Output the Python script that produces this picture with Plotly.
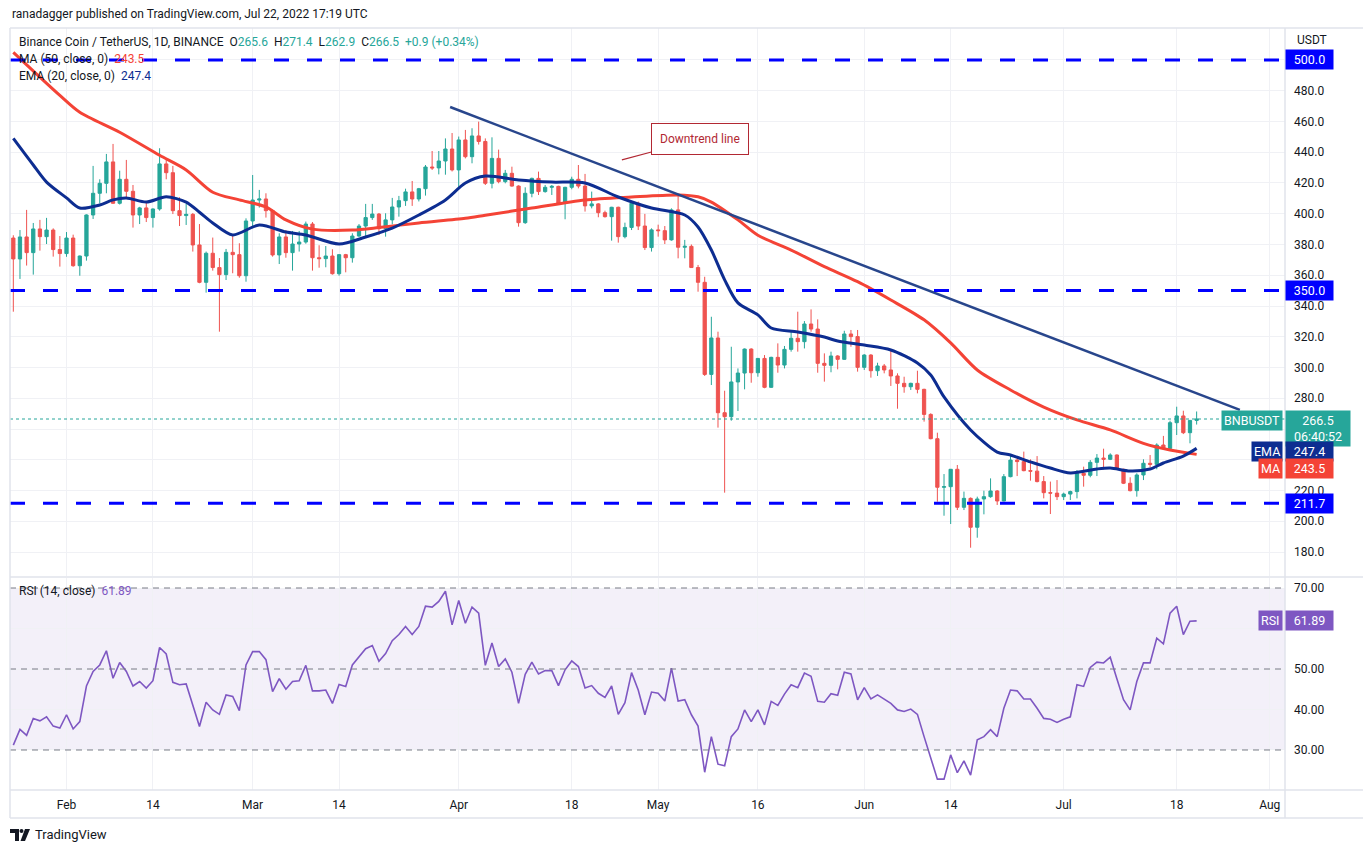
import pandas as pd
import plotly.graph_objects as go

# Daily candles, BNB/USDT (first candle is 24 Jan 2022)
OPEN = [
    384.2, 370.6, 384.9, 374.7, 390.1, 385.1, 389.4, 376.7, 374.1, 384.2,
    366.2, 372.5, 399.2, 413.3, 419.8, 433.7, 406.8, 422.4, 414.6, 399.2,
    403.8, 397.5, 403.1, 432.4, 426.7, 402.0, 398.8, 399.6, 379.7, 355.4,
    374.3, 365.0, 360.4, 374.9, 373.4, 359.7, 395.3, 408.9, 409.6, 402.0,
    373.2, 384.9, 374.7, 380.3, 381.6, 393.3, 371.4, 370.8, 372.5, 361.0,
    373.4, 371.4, 385.5, 392.0, 397.5, 399.8, 390.3, 396.0, 404.4, 408.5,
    414.2, 409.6, 416.3, 430.4, 429.8, 434.3, 442.1, 428.5, 448.0, 437.1,
    450.6, 447.0, 419.8, 436.0, 420.9, 426.3, 418.0, 394.2, 413.3, 423.0,
    414.4, 417.2, 417.8, 406.8, 417.2, 422.4, 418.0, 405.1, 406.4, 400.7,
    398.1, 404.2, 385.1, 391.1, 406.8, 392.0, 378.0, 389.5, 389.0, 383.0,
    402.5, 378.2, 378.8, 365.0, 355.4, 295.5, 319.2, 270.6, 268.0, 290.6,
    296.4, 312.0, 296.6, 305.9, 287.1, 306.6, 301.6, 311.8, 319.0, 316.8,
    328.3, 325.0, 302.7, 301.4, 307.5, 305.3, 321.8, 320.1, 300.1, 308.1,
    297.9, 301.0, 298.4, 294.5, 289.7, 287.5, 289.7, 285.8, 269.5, 253.7,
    222.1, 222.5, 233.8, 209.1, 214.9, 196.1, 214.5, 216.0, 219.7, 213.2,
    229.0, 239.8, 238.8, 232.9, 232.6, 225.8, 218.6, 218.3, 216.0, 217.7,
    219.3, 231.2, 229.9, 238.3, 241.1, 240.3, 243.1, 233.8, 224.7, 219.9,
    230.1, 237.7, 237.0, 249.6, 247.4, 264.1, 268.5, 257.6, 265.6,
]
HIGH = [
    386.0, 389.4, 402.5, 394.0, 396.0, 397.3, 390.5, 385.5, 388.1, 386.4,
    372.8, 399.6, 431.1, 422.4, 438.9, 445.4, 428.0, 435.0, 418.7, 404.5,
    407.4, 403.5, 442.6, 435.0, 431.1, 410.7, 406.4, 400.5, 393.3, 375.4,
    384.5, 371.2, 377.1, 386.2, 380.8, 397.0, 425.2, 415.5, 413.3, 402.8,
    387.3, 389.4, 388.8, 388.8, 394.9, 394.6, 379.5, 379.0, 376.9, 373.8,
    373.9, 387.3, 393.3, 406.4, 406.4, 400.5, 400.3, 410.3, 411.6, 416.3,
    421.3, 416.8, 431.7, 440.8, 440.8, 449.0, 452.5, 450.2, 454.5, 455.6,
    459.9, 449.0, 449.7, 441.7, 428.5, 430.6, 418.5, 417.2, 423.5, 427.4,
    418.7, 418.7, 418.2, 417.5, 424.1, 431.7, 425.9, 414.4, 406.9, 402.0,
    404.5, 404.6, 394.2, 407.9, 407.9, 399.9, 390.5, 392.9, 392.0, 403.5,
    412.6, 383.0, 380.0, 366.7, 359.0, 333.0, 323.3, 284.9, 313.5, 299.4,
    312.4, 312.5, 306.2, 308.1, 307.0, 315.7, 314.0, 323.9, 336.3, 330.2,
    337.8, 331.3, 309.2, 310.3, 308.0, 323.9, 324.4, 324.4, 308.7, 308.7,
    303.1, 302.3, 311.8, 296.2, 294.0, 290.1, 297.9, 286.2, 270.2, 257.6,
    230.7, 234.0, 236.6, 219.3, 215.5, 216.0, 219.9, 227.9, 220.3, 230.7,
    243.1, 241.6, 245.3, 240.3, 242.4, 229.4, 225.8, 226.8, 218.6, 219.9,
    233.3, 235.5, 239.8, 243.7, 247.2, 244.2, 243.5, 234.2, 228.6, 231.2,
    240.3, 243.1, 250.7, 255.5, 265.4, 274.5, 271.9, 265.8, 271.4,
]
LOW = [
    336.3, 357.6, 366.3, 360.4, 376.0, 380.3, 372.1, 365.6, 372.0, 365.5,
    359.7, 369.5, 396.6, 406.8, 413.3, 406.5, 406.0, 410.0, 391.0, 393.3,
    394.6, 391.0, 402.0, 422.4, 399.8, 392.0, 392.7, 375.4, 354.8, 348.7,
    363.0, 323.3, 356.9, 361.3, 358.4, 355.8, 390.5, 404.0, 397.5, 372.1,
    367.3, 371.4, 363.0, 375.4, 380.5, 363.0, 364.9, 365.2, 360.4, 359.7,
    361.9, 368.2, 385.0, 385.1, 396.0, 386.2, 385.1, 393.1, 398.1, 405.1,
    405.1, 408.0, 411.8, 428.5, 425.6, 425.4, 427.5, 415.9, 436.0, 432.8,
    445.0, 418.7, 416.5, 419.8, 419.8, 417.6, 391.6, 393.4, 410.7, 412.2,
    413.7, 412.2, 405.7, 396.4, 415.9, 416.5, 401.4, 403.5, 397.7, 397.5,
    382.5, 381.2, 384.0, 389.4, 389.4, 376.4, 375.4, 385.1, 380.3, 382.5,
    371.0, 371.0, 364.9, 349.3, 294.5, 288.6, 260.9, 218.6, 265.4, 271.7,
    285.8, 290.1, 294.0, 286.5, 286.8, 296.6, 299.4, 310.3, 310.3, 312.4,
    323.3, 296.6, 290.8, 296.9, 298.8, 305.0, 313.5, 297.3, 298.4, 293.4,
    294.5, 296.2, 288.0, 273.2, 283.6, 285.4, 283.2, 264.8, 253.3, 212.7,
    203.6, 198.2, 207.3, 207.3, 182.8, 189.3, 204.5, 215.3, 210.6, 213.0,
    228.6, 229.4, 232.5, 226.4, 225.3, 214.9, 204.7, 213.8, 213.8, 213.8,
    214.9, 222.5, 228.6, 229.4, 233.8, 239.8, 233.4, 224.2, 219.4, 216.0,
    226.8, 235.1, 233.8, 246.4, 246.8, 256.1, 256.7, 250.7, 262.9,
]
CLOSE = [
    370.6, 384.9, 374.7, 390.1, 385.1, 389.4, 376.7, 374.1, 384.2, 366.2,
    372.5, 399.2, 413.3, 419.8, 433.7, 406.8, 422.4, 414.6, 399.2, 403.8,
    397.5, 403.1, 432.4, 426.7, 402.0, 398.8, 399.6, 379.7, 355.4, 374.3,
    365.0, 360.4, 374.9, 373.4, 359.7, 395.3, 408.9, 409.6, 402.0, 373.2,
    384.9, 374.7, 380.3, 381.6, 393.3, 371.4, 370.8, 372.5, 361.0, 373.4,
    371.4, 385.5, 392.0, 397.5, 399.8, 390.3, 396.0, 404.4, 408.5, 414.2,
    409.6, 416.3, 430.4, 429.8, 434.3, 442.1, 428.5, 448.0, 437.1, 450.6,
    447.0, 419.8, 436.0, 420.9, 426.3, 418.0, 394.2, 413.3, 423.0, 414.4,
    417.2, 417.8, 406.8, 417.2, 422.4, 418.0, 405.1, 406.4, 400.7, 398.1,
    404.2, 385.1, 391.1, 406.8, 392.0, 378.0, 389.5, 389.0, 383.0, 402.5,
    378.2, 378.8, 365.0, 355.4, 295.5, 319.2, 270.6, 268.0, 290.6, 296.4,
    312.0, 296.6, 305.9, 287.1, 306.6, 301.6, 311.8, 319.0, 316.8, 328.3,
    325.0, 302.7, 301.4, 307.5, 305.3, 321.8, 320.1, 300.1, 308.1, 297.9,
    301.0, 298.4, 294.5, 289.7, 287.5, 289.7, 285.8, 269.5, 253.7, 222.1,
    222.5, 233.8, 209.1, 214.9, 196.1, 214.5, 216.0, 219.7, 213.2, 229.0,
    239.8, 238.8, 232.9, 232.6, 225.8, 218.6, 218.3, 216.0, 217.7, 219.3,
    231.2, 229.9, 238.3, 241.1, 240.3, 243.1, 233.8, 224.7, 219.9, 230.1,
    237.7, 237.0, 249.6, 247.4, 264.1, 268.5, 257.6, 265.6, 266.5,
]

# RSI (14, close), one value per candle
RSI = [
    31.2, 35.1, 33.6, 37.8, 37.2, 38.2, 35.9, 35.4, 38.7, 35.2,
    37.0, 45.8, 49.4, 51.0, 54.5, 47.7, 51.6, 49.4, 45.8, 46.9,
    45.3, 47.1, 55.3, 53.7, 46.7, 46.1, 46.3, 41.1, 35.8, 41.8,
    39.9, 38.8, 43.6, 43.2, 39.7, 51.0, 54.3, 54.3, 52.3, 44.4,
    47.6, 45.0, 46.9, 47.1, 50.9, 44.6, 44.6, 44.8, 41.5, 46.2,
    45.7, 51.0, 53.1, 55.0, 55.8, 51.9, 53.8, 57.0, 58.5, 60.5,
    58.5, 60.5, 65.5, 65.3, 66.7, 69.2, 60.9, 66.9, 61.3, 65.3,
    63.8, 50.9, 56.4, 50.6, 52.5, 49.2, 41.5, 48.7, 51.7, 48.8,
    49.6, 49.6, 45.9, 49.8, 52.0, 50.6, 45.3, 45.9, 44.0, 43.0,
    45.8, 38.8, 41.7, 49.1, 44.8, 38.7, 44.3, 44.0, 42.1, 50.2,
    42.1, 42.4, 38.7, 35.9, 24.5, 33.3, 26.5, 26.1, 33.3, 35.2,
    39.9, 37.0, 39.9, 36.2, 42.0, 41.0, 43.8, 46.1, 45.4, 49.0,
    48.2, 42.0, 41.8, 43.9, 43.5, 49.2, 48.8, 42.4, 45.4, 42.6,
    43.6, 42.6, 41.5, 39.9, 39.5, 40.1, 38.8, 33.3, 28.3, 22.8,
    22.8, 28.8, 24.4, 27.3, 23.8, 32.5, 33.3, 35.0, 33.3, 40.3,
    44.8, 44.6, 42.6, 42.6, 40.3, 37.8, 37.6, 36.8, 37.6, 38.2,
    46.1, 45.7, 50.4, 51.7, 51.5, 52.9, 47.6, 42.4, 39.9, 46.9,
    51.5, 51.5, 57.6, 56.2, 63.8, 65.5, 58.5, 61.8, 61.89,
]

# moving averages sampled off the chart (candle index, value)
MA_IDX = [0, 7, 10, 16, 22, 26, 30, 34, 38, 41, 45, 51, 55, 61, 68, 71, 78, 86,
          93, 100, 103, 105, 109, 112, 117, 122, 127, 132, 137, 141, 145, 150,
          155, 160, 165, 170, 174, 178]
MA_VAL = [505.0, 477.0, 466.0, 453.0, 438.0, 428.5, 414.0, 409.0, 404.4, 396.0,
          390.0, 389.4, 391.0, 394.0, 397.0, 399.0, 403.7, 409.0, 410.9, 412.2,
          411.0, 407.6, 396.0, 386.0, 376.4, 365.6, 355.8, 343.9, 331.0, 316.0,
          298.4, 285.4, 274.3, 265.9, 259.4, 250.7, 246.3, 243.5]
EMA_IDX = [0, 3, 5, 8, 10, 13, 15, 17, 20, 23, 26, 28, 30, 33, 37, 41, 44, 49,
           53, 57, 61, 65, 68, 71, 76, 81, 86, 91, 96, 101, 103, 105, 107, 109,
           112, 114, 118, 122, 124, 128, 132, 136, 138, 140, 144, 148, 150, 153,
           156, 159, 163, 165, 168, 171, 173, 176, 178]
EMA_VAL = [449.0, 431.7, 420.6, 410.3, 403.7, 405.7, 409.0, 410.3, 407.6, 411.0,
           407.6, 401.0, 394.0, 386.2, 392.7, 388.1, 386.2, 380.3, 384.9, 390.7,
           399.2, 409.0, 420.0, 424.5, 422.0, 420.6, 420.0, 410.9, 403.7, 399.2,
           391.4, 376.4, 357.0, 342.0, 334.2, 325.7, 323.1, 319.8, 317.2, 314.6,
           311.4, 302.9, 295.1, 280.9, 259.4, 245.0, 243.1, 238.6, 234.6, 231.4,
           234.0, 234.6, 232.7, 234.0, 237.9, 242.4, 247.4]

LEVELS = [500.0, 350.0, 211.7]
TREND_X = ["2022-03-30 17:00", "2022-07-27 12:00"]
TREND_Y = [469.4, 272.4]
CALLOUT_X = "2022-04-25 13:00"
CALLOUT_Y = 435.0

TICK_DATES = ["2022-02-01", "2022-02-14", "2022-03-01", "2022-03-14",
              "2022-04-01", "2022-04-18", "2022-05-01", "2022-05-16",
              "2022-06-01", "2022-06-14", "2022-07-01", "2022-07-18",
              "2022-08-01"]
TICK_TEXT = ["Feb", "14", "Mar", "14", "Apr", "18", "May", "16",
             "Jun", "14", "Jul", "18", "Aug"]
PRICE_TICKS = [180, 200, 220, 240, 260, 280, 300, 320, 340, 360, 380, 400,
               420, 440, 460, 480, 500]
RSI_TICKS = [30, 40, 50, 60, 70]

UP = "#26a69a"
DOWN = "#ef5350"
MA_COLOR = "#f44336"
EMA_COLOR = "#0d2d91"
TREND_COLOR = "#28468c"
LEVEL_COLOR = "#0000ff"
RSI_COLOR = "#7e57c2"
TEXT = "#131722"
GRID = "#f0f1f5"
BORDER = "#e0e3eb"
FONT = "Roboto"

W, H = 1363, 854
L, R, T, B = 10, 78, 28, 64
X_RANGE = ["2022-01-23 12:00", "2022-08-03 07:00"]


def px(x):
    return (x - L) / (W - L - R)


def py(y):
    return (H - B - y) / (H - T - B)


dates = pd.date_range("2022-01-24", periods=len(CLOSE), freq="D")

fig = go.Figure()

fig.add_trace(
    go.Candlestick(
        x=dates, open=OPEN, high=HIGH, low=LOW, close=CLOSE,
        increasing=dict(line=dict(color=UP, width=1), fillcolor=UP),
        decreasing=dict(line=dict(color=DOWN, width=1), fillcolor=DOWN),
        whiskerwidth=0, showlegend=False, hoverinfo="skip",
        xaxis="x", yaxis="y",
    )
)
fig.add_trace(
    go.Scatter(x=dates[MA_IDX], y=MA_VAL, mode="lines",
               line=dict(color=MA_COLOR, width=3, shape="spline", smoothing=0.8),
               showlegend=False, xaxis="x", yaxis="y")
)
fig.add_trace(
    go.Scatter(x=dates[EMA_IDX], y=EMA_VAL, mode="lines",
               line=dict(color=EMA_COLOR, width=3, shape="spline", smoothing=0.8),
               showlegend=False, xaxis="x", yaxis="y")
)
fig.add_trace(
    go.Scatter(x=TREND_X, y=TREND_Y, mode="lines",
               line=dict(color=TREND_COLOR, width=2.5),
               showlegend=False, xaxis="x", yaxis="y")
)
fig.add_trace(
    go.Scatter(x=dates, y=RSI, mode="lines",
               line=dict(color=RSI_COLOR, width=1.6),
               showlegend=False, xaxis="x2", yaxis="y2")
)

shapes = []
for lv in LEVELS:
    shapes.append(dict(type="line", xref="paper", x0=0, x1=1, yref="y", y0=lv, y1=lv,
                       line=dict(color=LEVEL_COLOR, width=3, dash="15px,18px")))
shapes.append(dict(type="line", xref="paper", x0=0, x1=1, yref="y",
                   y0=CLOSE[-1], y1=CLOSE[-1],
                   line=dict(color=UP, width=1, dash="dot")))
shapes.append(dict(type="rect", xref="paper", x0=0, x1=1, yref="y2", y0=30, y1=70,
                   fillcolor="rgba(126,87,194,0.09)", line=dict(width=0), layer="below"))
for lv in [70, 50, 30]:
    shapes.append(dict(type="line", xref="paper", x0=0, x1=1, yref="y2", y0=lv, y1=lv,
                       line=dict(color="#787b86", width=1, dash="6px,5px")))
# frame lines
for y0 in [28, 577, 790, 818]:
    shapes.append(dict(type="line", xref="paper", yref="paper", x0=0, x1=px(W),
                       y0=py(y0), y1=py(y0), line=dict(color=BORDER, width=1.5)))
for x0 in [10, 1285]:
    shapes.append(dict(type="line", xref="paper", yref="paper", x0=px(x0), x1=px(x0),
                       y0=py(818), y1=py(28), line=dict(color=BORDER, width=1.5)))
# TradingView mark
shapes.append(dict(type="path", xref="paper", yref="paper", fillcolor=TEXT,
                   line=dict(width=0),
                   path=f"M{px(10)},{py(829)} L{px(19)},{py(829)} L{px(19)},{py(841)} "
                        f"L{px(15)},{py(841)} L{px(15)},{py(833)} L{px(10)},{py(833)} Z"))
shapes.append(dict(type="circle", xref="paper", yref="paper", fillcolor=TEXT,
                   line=dict(width=0), x0=px(19.5), x1=px(23.5), y0=py(829), y1=py(833)))
shapes.append(dict(type="path", xref="paper", yref="paper", fillcolor=TEXT,
                   line=dict(width=0),
                   path=f"M{px(25)},{py(829)} L{px(30)},{py(829)} L{px(25)},{py(841)} "
                        f"L{px(20.5)},{py(841)} Z"))

teal = lambda s: f'<span style="color:{UP}">{s}</span>'
chg = CLOSE[-1] - CLOSE[-2]
header = (
    "Binance Coin / TetherUS, 1D, BINANCE&nbsp;&nbsp;"
    f"O{teal(f'{OPEN[-1]:.1f}')}&nbsp;&nbsp;H{teal(f'{HIGH[-1]:.1f}')}&nbsp;&nbsp;"
    f"L{teal(f'{LOW[-1]:.1f}')}&nbsp;&nbsp;C{teal(f'{CLOSE[-1]:.1f}')}&nbsp;&nbsp;"
    + teal(f"{chg:+.1f} ({chg / CLOSE[-2] * 100:+.2f}%)")
)

ann = [
    dict(xref="paper", yref="paper", x=px(10), y=py(14), xanchor="left", yanchor="middle",
         text="ranadagger published on TradingView.com, Jul 22, 2022 17:19 UTC",
         showarrow=False, font=dict(size=12, color=TEXT)),
    dict(xref="paper", yref="paper", x=px(17), y=py(42), xanchor="left", yanchor="middle",
         text=header, showarrow=False, font=dict(size=12, color=TEXT)),
    dict(xref="paper", yref="paper", x=px(17), y=py(59), xanchor="left", yanchor="middle",
         text=f'MA (50, close, 0)&nbsp;&nbsp;<span style="color:{MA_COLOR}">{MA_VAL[-1]:.1f}</span>',
         showarrow=False, font=dict(size=12, color=TEXT)),
    dict(xref="paper", yref="paper", x=px(17), y=py(76), xanchor="left", yanchor="middle",
         text=f'EMA (20, close, 0)&nbsp;&nbsp;<span style="color:{EMA_COLOR}">{EMA_VAL[-1]:.1f}</span>',
         showarrow=False, font=dict(size=12, color=TEXT)),
    dict(xref="paper", yref="paper", x=px(17), y=py(591), xanchor="left", yanchor="middle",
         text=f'RSI (14, close)&nbsp;&nbsp;<span style="color:{RSI_COLOR}">{RSI[-1]:.2f}</span>',
         showarrow=False, font=dict(size=12, color=TEXT)),
    dict(xref="paper", yref="paper", x=1, xshift=10, y=py(40), xanchor="left", yanchor="middle",
         text="USDT", showarrow=False, font=dict(size=12, color=TEXT)),
    dict(xref="paper", yref="paper", x=px(33), y=py(835), xanchor="left", yanchor="middle",
         text="TradingView", showarrow=False, font=dict(size=13, color=TEXT)),
    dict(xref="x", yref="y", x=CALLOUT_X, y=CALLOUT_Y, ax=78, ay=-21,
         text="Downtrend line", showarrow=True, arrowhead=0, arrowwidth=1.2,
         arrowcolor="#b22833", bgcolor="white", bordercolor="#b22833", borderwidth=1,
         borderpad=8, font=dict(size=12, color="#b22833")),
]


def axis_box(text, yval, color, yref="y", yshift=0, width=43, anchor="middle"):
    return dict(xref="paper", yref=yref, x=1, xanchor="left", y=yval, yanchor=anchor,
                yshift=yshift, text=text, showarrow=False, bgcolor=color,
                borderpad=2, width=width, align="center",
                font=dict(size=12.5, color="white"))


def side_box(text, yval, color, yref="y", yshift=0):
    return dict(xref="paper", yref=yref, x=1, xanchor="right", xshift=-2, y=yval,
                yanchor="middle", yshift=yshift, text=text, showarrow=False,
                bgcolor=color, borderpad=2, font=dict(size=12.5, color="white"))


for lv in LEVELS:
    ann.append(axis_box(f"{lv:.1f}", lv, LEVEL_COLOR))
ann.append(axis_box(f"{CLOSE[-1]:.1f}<br>06:40:52", CLOSE[-1], UP, yshift=9,
                    width=60, anchor="top"))
ann.append(axis_box(f"{EMA_VAL[-1]:.1f}", EMA_VAL[-1], EMA_COLOR, yshift=-3))
ann.append(axis_box(f"{MA_VAL[-1]:.1f}", MA_VAL[-1], MA_COLOR, yshift=-14))
ann.append(axis_box(f"{RSI[-1]:.2f}", RSI[-1], RSI_COLOR, yref="y2"))
ann.append(side_box("BNBUSDT", CLOSE[-1], UP, yshift=-1))
ann.append(side_box("EMA", EMA_VAL[-1], EMA_COLOR, yshift=-3))
ann.append(side_box("MA", MA_VAL[-1], MA_COLOR, yshift=-14))
ann.append(side_box("RSI", RSI[-1], RSI_COLOR, yref="y2"))

# tick labels hidden where the axis boxes sit (the grid line stays)
price_text = ["" if v in (240, 260, 500) else f"{v:.1f}" for v in PRICE_TICKS]
rsi_text = ["" if v == 60 else f"{v:.2f}" for v in RSI_TICKS]

fig.update_layout(
    width=W, height=H,
    margin=dict(l=L, r=R, t=T, b=B),
    paper_bgcolor="white", plot_bgcolor="white",
    font=dict(family=FONT, size=12, color=TEXT),
    showlegend=False, hovermode=False,
    shapes=shapes, annotations=ann,
    xaxis=dict(domain=[0, 1], anchor="y", type="date", range=X_RANGE,
               tickvals=TICK_DATES, showticklabels=False, gridcolor=GRID,
               zeroline=False, showline=False, rangeslider=dict(visible=False)),
    yaxis=dict(domain=[py(576), 1], anchor="x", side="right", range=[164.4, 520.8],
               tickvals=PRICE_TICKS, ticktext=price_text, gridcolor=GRID, zeroline=False,
               showline=False, ticklabelstandoff=8, tickfont=dict(size=12, color=TEXT)),
    xaxis2=dict(domain=[0, 1], anchor="y2", type="date", range=X_RANGE,
                tickvals=TICK_DATES, ticktext=TICK_TEXT, gridcolor=GRID, zeroline=False,
                showline=False, ticklabelstandoff=6, tickfont=dict(size=12, color=TEXT)),
    yaxis2=dict(domain=[0, py(578)], anchor="x2", side="right", range=[20.12, 72.47],
                tickvals=RSI_TICKS, ticktext=rsi_text, gridcolor=GRID,
                zeroline=False, showline=False, ticklabelstandoff=8,
                tickfont=dict(size=12, color=TEXT)),
)

# the page body has a default 8px margin; drop it so the figure fills the window
fig.write_html("out.html", config={"displayModeBar": False},
               post_script="document.body.style.margin='0px';")
